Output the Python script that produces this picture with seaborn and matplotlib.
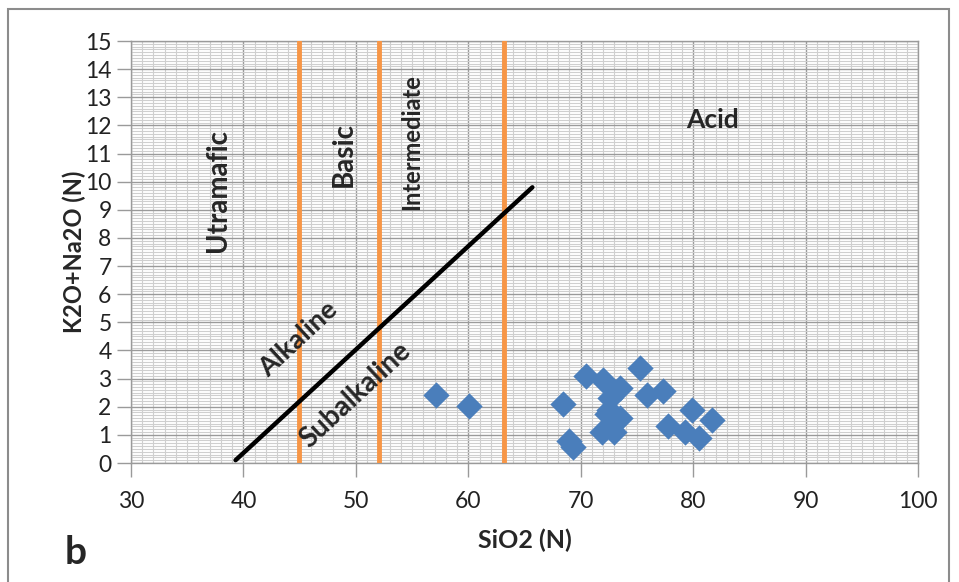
import matplotlib
matplotlib.use("Agg")
import matplotlib.pyplot as plt
import seaborn as sns
import numpy as np
import pandas as pd
from matplotlib.ticker import MultipleLocator
from matplotlib.patches import Rectangle

# ---- data ----
sio2 = [57.1, 60.1, 68.4, 69.0, 69.3, 70.5, 72.0, 75.3, 73.5, 72.6, 72.5, 72.3,
        73.5, 71.9, 73.0, 75.9, 77.3, 77.8, 79.9, 79.3, 80.5, 81.7]
alk = [2.42, 2.03, 2.09, 0.78, 0.58, 3.11, 2.95, 3.39, 2.66, 2.30, 1.89, 1.75,
       1.59, 1.09, 1.11, 2.42, 2.56, 1.33, 1.89, 1.10, 0.88, 1.53]
boundaries = [44.9, 52.1, 63.2]
divider_x = [39.3, 65.7]
divider_y = [0.1, 9.8]
zone_names = ["Utramafic", "Basic", "Intermediate", "Acid"]
x_ticks = [30, 40, 50, 60, 70, 80, 90, 100]
y_ticks = list(range(0, 16))

sns.set_theme(style="white")
plt.rcParams['font.family'] = ['Lato', 'DejaVu Sans']

fig = plt.figure(figsize=(9.59, 5.82), dpi=100)
ax = fig.add_axes([131/959, 1-463/582, (918-131)/959, (463-41)/582])

ax.set_xlim(30, 100)
ax.set_ylim(0, 15)
ax.set_xticks(x_ticks)
ax.set_yticks(y_ticks)
ax.xaxis.set_minor_locator(MultipleLocator(1))
ax.yaxis.set_minor_locator(MultipleLocator(0.1))
ax.grid(which='minor', color='#cfcfcf', linewidth=0.8)
ax.grid(which='major', color='#9a9a9a', linewidth=1.0)
ax.set_axisbelow(True)
for s in ax.spines.values():
    s.set_color('#9a9a9a')
    s.set_linewidth(1.0)
ax.tick_params(axis='both', which='major', length=10, color='#9a9a9a', width=1.0,
               labelsize=16.5, pad=4, bottom=True, left=True, labelcolor='#222222')
ax.tick_params(axis='both', which='minor', length=0)
ax.tick_params(axis='x', pad=10)

# zone boundaries
for b in boundaries:
    ax.axvline(b, color='#F79646', linewidth=3.5, zorder=3)

# alkaline / subalkaline divider
line_df = pd.DataFrame({"x": divider_x, "y": divider_y})
sns.lineplot(data=line_df, x="x", y="y", color='black', linewidth=3.2, ax=ax,
             zorder=4, sort=False)

# samples
df = pd.DataFrame({"SiO2": sio2, "alk": alk})
sns.scatterplot(data=df, x="SiO2", y="alk", marker='D', s=180, color='#4A7EBB',
                edgecolor='#4A7EBB', linewidth=0, ax=ax, zorder=5)

ax.set_xlabel("SiO2 (N)", fontsize=18, fontweight='bold', labelpad=12)
ax.set_ylabel("K2O+Na2O (N)", fontsize=17, fontweight='bold')
ax.yaxis.set_label_coords(-0.057, 0.5)

# zone labels
ax.text(37.7, 9.7, zone_names[0], rotation=90, fontsize=20, fontweight='bold',
        ha='center', va='center', zorder=6)
ax.text(48.9, 10.96, zone_names[1], rotation=90, fontsize=20, fontweight='bold',
        ha='center', va='center', zorder=6)
ax.text(55.0, 11.4, zone_names[2], rotation=90, fontsize=17, fontweight='bold',
        ha='center', va='center', zorder=6)
ax.text(81.7, 12.2, zone_names[3], rotation=0, fontsize=19, fontweight='bold',
        ha='center', va='center', zorder=6)
ax.text(44.9, 4.4, "Alkaline", rotation=43, fontsize=19.5, fontweight='bold',
        ha='center', va='center', zorder=6, rotation_mode='anchor')
ax.text(50.0, 2.4, "Subalkaline", rotation=43, fontsize=20, fontweight='bold',
        ha='center', va='center', zorder=6, rotation_mode='anchor')

fig.text(76/959, 1-553/582, "b", fontsize=28, fontweight='bold', ha='center', va='center')

# outer frame
fig.patches.append(Rectangle((8/959, -0.05), (949-8)/959, 1.05-9/582,
                             transform=fig.transFigure, fill=False,
                             edgecolor='#8c8c8c', linewidth=1.5))

fig.savefig("out.png", dpi=100)
